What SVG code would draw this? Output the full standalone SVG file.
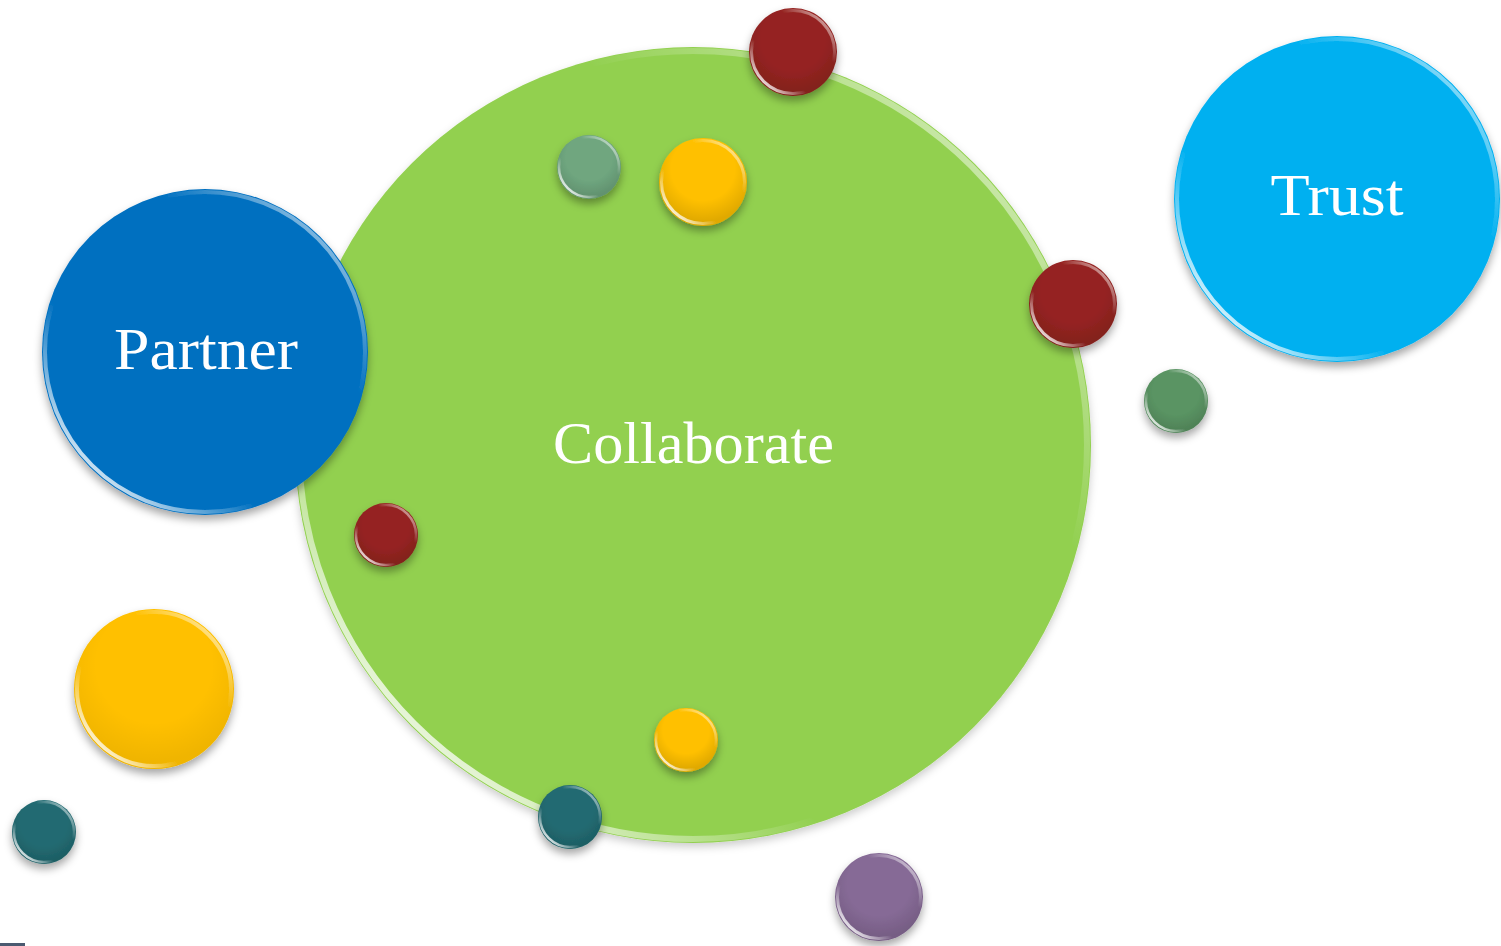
<svg xmlns="http://www.w3.org/2000/svg" width="1501" height="946" viewBox="0 0 1501 946">
<style>
.lbl{font-family:"Liberation Serif","DejaVu Serif",serif;font-size:60px;fill:#ffffff;text-anchor:middle}
.rim{fill:none;stroke:url(#rim)}
.sh{filter:url(#sh)}
</style>
<defs>
<filter id="sh" x="-20%" y="-20%" width="140%" height="150%">
<feDropShadow dx="0" dy="5" stdDeviation="4" flood-color="#000" flood-opacity="0.35"/>
</filter>
<filter id="shl" x="-10%" y="-10%" width="120%" height="125%">
<feDropShadow dx="0" dy="4" stdDeviation="4" flood-color="#000" flood-opacity="0.2"/>
</filter>
<linearGradient id="rim" x1="0.1" y1="0.9" x2="0.9" y2="0.1">
<stop offset="0" stop-color="#fff" stop-opacity="0.95"/>
<stop offset="0.3" stop-color="#fff" stop-opacity="0"/>
<stop offset="0.72" stop-color="#fff" stop-opacity="0"/>
<stop offset="1" stop-color="#fff" stop-opacity="0.6"/>
</linearGradient>
<radialGradient id="shade" cx="0.5" cy="0.35" r="0.6">
<stop offset="0.6" stop-color="#000" stop-opacity="0"/>
<stop offset="1" stop-color="#000" stop-opacity="0.12"/>
</radialGradient>
</defs>

<g id="collaborate" filter="url(#shl)">
<circle cx="693" cy="445" r="398" fill="#92d050"/>
<circle cx="693" cy="445" r="394" class="rim" stroke-width="6"/>
<text class="lbl" x="693.5" y="463" textLength="281" lengthAdjust="spacingAndGlyphs">Collaborate</text>
</g>

<g id="partner" class="sh">
<circle cx="205" cy="352" r="163" fill="#0070c0"/>
<circle cx="205" cy="352" r="160" class="rim" stroke-width="4"/>
<text class="lbl" x="206" y="369" textLength="184" lengthAdjust="spacingAndGlyphs">Partner</text>
</g>

<g id="trust" class="sh">
<circle cx="1337" cy="199" r="163" fill="#00b0f0"/>
<circle cx="1337" cy="199" r="160" class="rim" stroke-width="4"/>
<text class="lbl" x="1337" y="215" textLength="133" lengthAdjust="spacingAndGlyphs">Trust</text>
</g>

<g id="bubble-red-top" class="sh">
<circle cx="793" cy="52" r="44" fill="#952421"/>
<circle cx="793" cy="52" r="44" fill="url(#shade)"/>
<circle cx="793" cy="52" r="41.5" class="rim" stroke-width="3"/>
</g>
<g id="bubble-red-right" class="sh">
<circle cx="1073" cy="304" r="44" fill="#952421"/>
<circle cx="1073" cy="304" r="44" fill="url(#shade)"/>
<circle cx="1073" cy="304" r="41.5" class="rim" stroke-width="3"/>
</g>
<g id="bubble-red-left" class="sh">
<circle cx="386" cy="535" r="32" fill="#952421"/>
<circle cx="386" cy="535" r="32" fill="url(#shade)"/>
<circle cx="386" cy="535" r="30" class="rim" stroke-width="2.5"/>
</g>
<g id="bubble-sage-top" class="sh">
<circle cx="589" cy="167" r="32" fill="#6fa67f"/>
<circle cx="589" cy="167" r="32" fill="url(#shade)"/>
<circle cx="589" cy="167" r="30" class="rim" stroke-width="2.5"/>
</g>
<g id="bubble-yellow-top" class="sh">
<circle cx="703" cy="182" r="44" fill="#ffc000"/>
<circle cx="703" cy="182" r="44" fill="url(#shade)"/>
<circle cx="703" cy="182" r="41.5" class="rim" stroke-width="3"/>
</g>
<g id="bubble-green-right" class="sh">
<circle cx="1176" cy="401" r="32" fill="#5a9463"/>
<circle cx="1176" cy="401" r="32" fill="url(#shade)"/>
<circle cx="1176" cy="401" r="30" class="rim" stroke-width="2.5"/>
</g>
<g id="bubble-yellow-left" class="sh">
<circle cx="154" cy="689" r="80" fill="#ffc000"/>
<circle cx="154" cy="689" r="80" fill="url(#shade)" opacity="0.5"/>
<circle cx="154" cy="689" r="77" class="rim" stroke-width="4"/>
</g>
<g id="bubble-teal-left" class="sh">
<circle cx="44" cy="832" r="32" fill="#226b72"/>
<circle cx="44" cy="832" r="32" fill="url(#shade)"/>
<circle cx="44" cy="832" r="30" class="rim" stroke-width="2.5"/>
</g>
<g id="bubble-yellow-bottom" class="sh">
<circle cx="686" cy="740" r="32" fill="#ffc000"/>
<circle cx="686" cy="740" r="32" fill="url(#shade)"/>
<circle cx="686" cy="740" r="30" class="rim" stroke-width="2.5"/>
</g>
<g id="bubble-teal-bottom" class="sh">
<circle cx="570" cy="817" r="32" fill="#226b72"/>
<circle cx="570" cy="817" r="32" fill="url(#shade)"/>
<circle cx="570" cy="817" r="30" class="rim" stroke-width="2.5"/>
</g>
<g id="bubble-purple-bottom" class="sh">
<circle cx="879" cy="897" r="44" fill="#866a96"/>
<circle cx="879" cy="897" r="44" fill="url(#shade)"/>
<circle cx="879" cy="897" r="41.5" class="rim" stroke-width="3"/>
</g>

<rect x="0" y="943" width="25" height="3" fill="#4a5a70"/>
<g id="connectors"/>
</svg>
